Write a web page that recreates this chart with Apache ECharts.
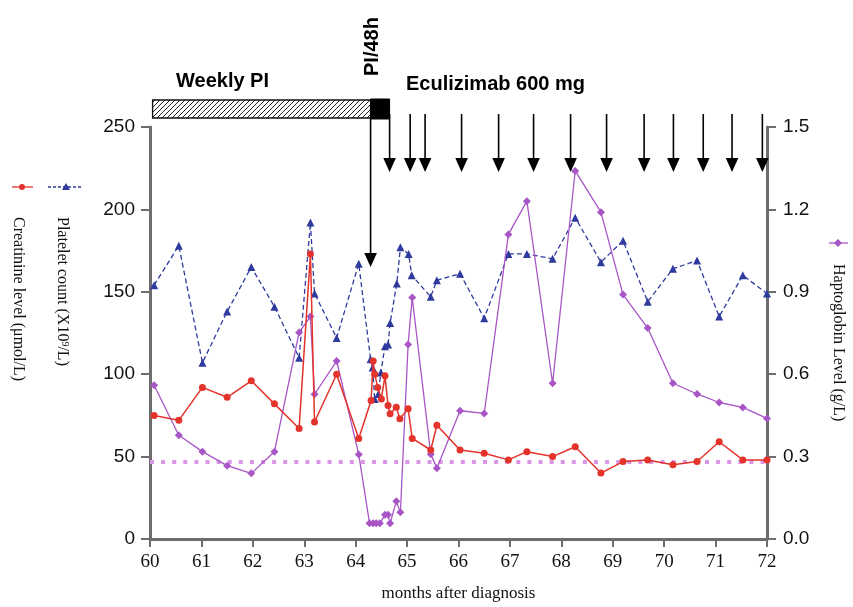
<!DOCTYPE html>
<html>
<head>
<meta charset="utf-8">
<script src="https://cdn.jsdelivr.net/npm/echarts@6/dist/echarts.min.js"></script>
<style>html,body{margin:0;padding:0;background:#fff}#c{width:853px;height:607px}</style>
</head>
<body>
<div id="c"></div>
<script>
// ---- data ----
const xTicks = [60, 72, 1];
const plateletMonths = [60.08, 60.56, 61.02, 61.5, 61.97, 62.42, 62.9, 63.12, 63.2, 63.63, 64.06, 64.29, 64.33, 64.37, 64.44, 64.49, 64.57, 64.63, 64.67, 64.8, 64.87, 65.03, 65.09, 65.46, 65.58, 66.03, 66.5, 66.97, 67.33, 67.83, 68.27, 68.77, 69.2, 69.68, 70.17, 70.64, 71.07, 71.53, 72.0];
const plateletValues = [154, 178, 107, 138, 165, 141, 110, 192, 149, 122, 167, 109, 104, 85, 88, 101, 117, 118, 131, 155, 177, 173, 160, 147, 157, 161, 134, 173, 173, 170, 195, 168, 181, 144, 164, 169, 135, 160, 149];
const creatinineMonths = [60.08, 60.56, 61.02, 61.5, 61.97, 62.42, 62.9, 63.12, 63.2, 63.63, 64.06, 64.3, 64.34, 64.37, 64.43, 64.5, 64.57, 64.63, 64.67, 64.79, 64.86, 65.02, 65.1, 65.46, 65.58, 66.03, 66.5, 66.97, 67.33, 67.83, 68.27, 68.77, 69.2, 69.68, 70.17, 70.64, 71.07, 71.53, 72.0];
const creatinineValues = [75, 72, 92, 86, 96, 82, 67, 173, 71, 100, 61, 84, 108, 100, 92, 85, 99, 81, 76, 80, 73, 79, 61, 54, 69, 54, 52, 48, 53, 50, 56, 40, 47, 48, 45, 47, 59, 48, 48];
const haptoMonths = [60.08, 60.56, 61.02, 61.5, 61.97, 62.42, 62.9, 63.12, 63.2, 63.63, 64.06, 64.27, 64.34, 64.4, 64.47, 64.57, 64.63, 64.67, 64.79, 64.87, 65.02, 65.1, 65.46, 65.58, 66.03, 66.5, 66.97, 67.33, 67.83, 68.27, 68.77, 69.2, 69.68, 70.17, 70.64, 71.07, 71.53, 72.0];
const haptoValues = [0.56, 0.378, 0.318, 0.267, 0.239, 0.318, 0.752, 0.81, 0.527, 0.648, 0.308, 0.057, 0.057, 0.057, 0.057, 0.088, 0.088, 0.057, 0.137, 0.097, 0.708, 0.879, 0.309, 0.258, 0.467, 0.457, 1.109, 1.23, 0.567, 1.34, 1.19, 0.89, 0.768, 0.567, 0.528, 0.497, 0.479, 0.439];
const haptoRefLevel = 0.28;
const weeklyPI = [60.05, 64.29];
const pi48h = [64.29, 64.66];
const pi48hStartArrow = [64.29];
const eculizumabDoses = [64.66, 65.06, 65.35, 66.06, 66.78, 67.46, 68.18, 68.88, 69.61, 70.18, 70.76, 71.32, 71.91];
const leftTicks = [0, 250, 50];
const rightTicks = [0, 1.5, 0.3];

// ---- helpers ----
const zip = (a, b) => a.map((v, i) => [v, b[i]]);
const hatch = document.createElement('canvas');
hatch.width = 5; hatch.height = 5;
(function () {
  const g = hatch.getContext('2d');
  g.fillStyle = '#fff'; g.fillRect(0, 0, 5, 5);
  g.strokeStyle = '#222'; g.lineWidth = 1;
  g.beginPath();
  g.moveTo(-1, 6); g.lineTo(6, -1);
  g.moveTo(-1, 1); g.lineTo(1, -1);
  g.moveTo(4, 6); g.lineTo(6, 4);
  g.stroke();
})();

const RED = '#e3332b', BLUE = '#2f3a9e', PURPLE = '#a855c6';
const AX = '#6d6d6d';
const chart = echarts.init(document.getElementById('c'), null, { renderer: 'canvas' });

function arrowShape(x, y0, y1) {
  return {
    type: 'group',
    children: [
      { type: 'line', shape: { x1: x, y1: y0, x2: x, y2: y1 - 10 }, style: { stroke: '#000', lineWidth: 1.6 } },
      { type: 'polygon', shape: { points: [[x - 6.3, y1 - 14], [x + 6.3, y1 - 14], [x, y1]] }, style: { fill: '#000' } }
    ]
  };
}

const option = {
  animation: false,
  backgroundColor: '#fff',
  grid: { left: 150, right: 86, top: 127, bottom: 66 },
  xAxis: {
    type: 'value', min: xTicks[0], max: xTicks[1], interval: xTicks[2],
    name: 'months after diagnosis', nameLocation: 'middle', nameGap: 46,
    nameTextStyle: { fontFamily: 'Liberation Serif', fontSize: 17, color: '#111' },
    axisLine: { lineStyle: { color: AX, width: 3 } },
    axisTick: { length: 8, lineStyle: { color: AX, width: 2 } },
    axisLabel: { fontFamily: 'Liberation Serif', fontSize: 19, color: '#111', margin: 14 },
    splitLine: { show: false }
  },
  yAxis: [
    {
      type: 'value', min: leftTicks[0], max: leftTicks[1], interval: leftTicks[2],
      axisLine: { show: true, lineStyle: { color: AX, width: 3 } },
      axisTick: { show: true, length: 9, lineStyle: { color: AX, width: 2 } },
      axisLabel: { fontFamily: 'Liberation Sans', fontSize: 19, color: '#111', margin: 15 },
      splitLine: { show: false }
    },
    {
      type: 'value', min: rightTicks[0], max: rightTicks[1], interval: rightTicks[2],
      position: 'right',
      axisLine: { show: true, lineStyle: { color: AX, width: 3 } },
      axisTick: { show: true, length: 9, lineStyle: { color: AX, width: 2 } },
      axisLabel: { fontFamily: 'Liberation Sans', fontSize: 19, color: '#111', margin: 16,
        formatter: v => v.toFixed(1) },
      splitLine: { show: false }
    }
  ],
  series: [
    {
      name: 'ref', type: 'line', yAxisIndex: 1, showSymbol: false, silent: true,
      data: [[xTicks[0], haptoRefLevel], [xTicks[1], haptoRefLevel]],
      lineStyle: { color: '#d996e6', width: 4, type: [4, 7.1], cap: 'butt' }, z: 1
    },
    {
      name: 'Platelet', type: 'line', data: zip(plateletMonths, plateletValues),
      symbol: 'triangle', symbolSize: 8,
      lineStyle: { color: BLUE, width: 1.3, type: [5, 3] },
      itemStyle: { color: BLUE }, z: 3
    },
    {
      name: 'Haptoglobin', type: 'line', yAxisIndex: 1, data: zip(haptoMonths, haptoValues),
      symbol: 'diamond', symbolSize: 8,
      lineStyle: { color: PURPLE, width: 1.3 },
      itemStyle: { color: PURPLE }, z: 4
    },
    {
      name: 'Creatinine', type: 'line', data: zip(creatinineMonths, creatinineValues),
      symbol: 'circle', symbolSize: 7,
      lineStyle: { color: RED, width: 1.5 },
      itemStyle: { color: RED }, z: 5
    },
    {
      name: 'treatment-bars', type: 'custom', clip: false, silent: true, z: 6,
      data: [[weeklyPI[0], weeklyPI[1], 0], [pi48h[0], pi48h[1], 1]],
      renderItem: function (params, api) {
        const a = api.coord([api.value(0), leftTicks[1]]);
        const b = api.coord([api.value(1), leftTicks[1]]);
        const top = a[1];
        const solid = api.value(2) === 1;
        return {
          type: 'rect',
          shape: solid ? { x: a[0], y: top - 28, width: b[0] - a[0], height: 20 }
                       : { x: a[0], y: top - 27, width: b[0] - a[0], height: 18 },
          style: solid ? { fill: '#000', stroke: '#000', lineWidth: 1 }
                       : { fill: { image: hatch, repeat: 'repeat' }, stroke: '#111', lineWidth: 1.3 }
        };
      }
    },
    {
      name: 'pi48h-arrow', type: 'custom', clip: false, silent: true, z: 6,
      data: pi48hStartArrow.map(m => [m]),
      renderItem: function (params, api) {
        const p = api.coord([api.value(0), leftTicks[1]]);
        return arrowShape(p[0], p[1] - 9, p[1] + 140);
      }
    },
    {
      name: 'eculizumab', type: 'custom', clip: false, silent: true, z: 6,
      data: eculizumabDoses.map(m => [m]),
      renderItem: function (params, api) {
        const p = api.coord([api.value(0), leftTicks[1]]);
        return arrowShape(p[0], p[1] - 13, p[1] + 45);
      }
    }
  ],
  graphic: [
    { type: 'text', x: 176, y: 81, style: { text: 'Weekly PI', font: 'bold 20px "Liberation Sans"', fill: '#000', verticalAlign: 'middle' } },
    { type: 'text', x: 406, y: 84, style: { text: 'Eculizimab 600 mg', font: 'bold 20px "Liberation Sans"', fill: '#000', verticalAlign: 'middle' } },
    { type: 'text', x: 372, y: 76, rotation: Math.PI / 2, style: { text: 'PI/48h', font: 'bold 20px "Liberation Sans"', fill: '#000', align: 'left', verticalAlign: 'middle' } },
    // left legend: creatinine
    { type: 'line', shape: { x1: 12, y1: 187, x2: 33, y2: 187 }, style: { stroke: RED, lineWidth: 1.3 } },
    { type: 'circle', shape: { cx: 22, cy: 187, r: 3 }, style: { fill: RED } },
    { type: 'text', x: 18, y: 217, rotation: -Math.PI / 2, style: { text: 'Creatinine level (μmol/L)', font: '16px "Liberation Serif"', fill: '#111', align: 'left', verticalAlign: 'middle' } },
    // left legend: platelet
    { type: 'line', shape: { x1: 48, y1: 187, x2: 83, y2: 187 }, style: { stroke: BLUE, lineWidth: 1.3, lineDash: [3, 2] } },
    { type: 'polygon', shape: { points: [[62, 190], [70, 190], [66, 183]] }, style: { fill: BLUE } },
    { type: 'text', x: 62, y: 217, rotation: -Math.PI / 2, style: { rich: { n: { font: '16px "Liberation Serif"', fill: '#111' }, s: { font: '10px "Liberation Serif"', fill: '#111', verticalAlign: 'top', padding: [0, 0, 6, 0] } }, text: '{n|Platelet count (X10}{s|9}{n|/L)}', align: 'left', verticalAlign: 'middle' } },
    // right legend: haptoglobin
    { type: 'line', shape: { x1: 829, y1: 243, x2: 848, y2: 243 }, style: { stroke: PURPLE, lineWidth: 1.3 } },
    { type: 'polygon', shape: { points: [[838, 239], [842, 243], [838, 247], [834, 243]] }, style: { fill: PURPLE } },
    { type: 'text', x: 838, y: 264, rotation: -Math.PI / 2, style: { text: 'Haptoglobin Level (g/L)', font: '16px "Liberation Serif"', fill: '#111', align: 'left', verticalAlign: 'middle' } }
  ]
};
chart.setOption(option);
</script>
</body>
</html>
